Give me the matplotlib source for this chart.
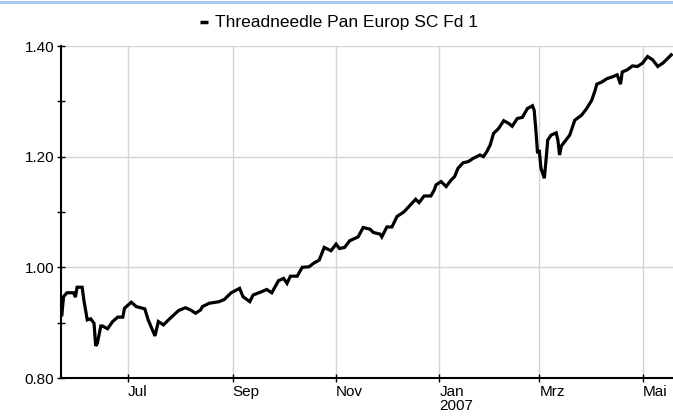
import matplotlib
matplotlib.use("Agg")
import matplotlib.pyplot as plt
from matplotlib.patches import Rectangle
from matplotlib.lines import Line2D
import pandas as pd

series_name = "Threadneedle Pan Europ SC Fd 1"

dates = [
    "2006-05-23", "2006-05-24", "2006-05-26", "2006-05-30", "2006-05-31", "2006-06-01",
    "2006-06-04", "2006-06-05", "2006-06-07", "2006-06-09", "2006-06-11", "2006-06-12",
    "2006-06-13", "2006-06-15", "2006-06-16", "2006-06-19", "2006-06-22", "2006-06-25",
    "2006-06-28", "2006-06-29", "2006-07-03", "2006-07-06", "2006-07-11", "2006-07-13",
    "2006-07-17", "2006-07-19", "2006-07-22", "2006-07-26", "2006-07-31", "2006-08-04",
    "2006-08-07", "2006-08-10", "2006-08-13", "2006-08-14", "2006-08-18", "2006-08-24",
    "2006-08-27", "2006-08-31", "2006-09-05", "2006-09-07", "2006-09-11", "2006-09-13",
    "2006-09-18", "2006-09-21", "2006-09-24", "2006-09-28", "2006-10-01", "2006-10-03",
    "2006-10-05", "2006-10-09", "2006-10-12", "2006-10-16", "2006-10-19", "2006-10-22",
    "2006-10-25", "2006-10-29", "2006-11-01", "2006-11-03", "2006-11-06", "2006-11-09",
    "2006-11-14", "2006-11-17", "2006-11-21", "2006-11-23", "2006-11-27", "2006-11-28",
    "2006-12-01", "2006-12-04", "2006-12-07", "2006-12-11", "2006-12-15", "2006-12-18",
    "2006-12-20", "2006-12-23", "2006-12-27", "2006-12-29", "2006-12-30", "2007-01-02",
    "2007-01-05", "2007-01-08", "2007-01-10", "2007-01-12", "2007-01-15", "2007-01-18",
    "2007-01-21", "2007-01-25", "2007-01-27", "2007-01-29", "2007-01-31", "2007-02-02",
    "2007-02-05", "2007-02-08", "2007-02-11", "2007-02-13", "2007-02-16", "2007-02-19",
    "2007-02-22", "2007-02-25", "2007-02-26", "2007-02-27", "2007-02-28", "2007-03-01",
    "2007-03-02", "2007-03-04", "2007-03-05", "2007-03-06", "2007-03-08", "2007-03-11",
    "2007-03-12", "2007-03-13", "2007-03-14", "2007-03-16", "2007-03-19", "2007-03-22",
    "2007-03-26", "2007-03-29", "2007-04-01", "2007-04-03", "2007-04-04", "2007-04-07",
    "2007-04-10", "2007-04-13", "2007-04-16", "2007-04-18", "2007-04-19", "2007-04-22",
    "2007-04-25", "2007-04-28", "2007-05-01", "2007-05-04", "2007-05-07", "2007-05-10",
    "2007-05-12", "2007-05-13", "2007-05-15", "2007-05-18",
]

values = [
    0.914, 0.947, 0.954, 0.954, 0.946, 0.964,
    0.964, 0.941, 0.905, 0.907, 0.899, 0.858,
    0.863, 0.894, 0.894, 0.889, 0.902, 0.910,
    0.910, 0.926, 0.937, 0.929, 0.925, 0.905,
    0.876, 0.902, 0.896, 0.908, 0.922, 0.927,
    0.923, 0.917, 0.923, 0.929, 0.935, 0.938,
    0.942, 0.954, 0.962, 0.947, 0.938, 0.950,
    0.956, 0.960, 0.954, 0.976, 0.980, 0.971,
    0.984, 0.984, 1.000, 1.001, 1.008, 1.013,
    1.036, 1.030, 1.042, 1.034, 1.036, 1.048,
    1.055, 1.072, 1.069, 1.063, 1.060, 1.055,
    1.073, 1.073, 1.092, 1.100, 1.113, 1.123,
    1.117, 1.129, 1.129, 1.140, 1.149, 1.155,
    1.146, 1.158, 1.164, 1.179, 1.189, 1.191,
    1.197, 1.203, 1.200, 1.209, 1.221, 1.242,
    1.251, 1.265, 1.260, 1.255, 1.269, 1.271,
    1.287, 1.292, 1.284, 1.248, 1.206, 1.212,
    1.179, 1.161, 1.194, 1.230, 1.239, 1.243,
    1.230, 1.203, 1.219, 1.227, 1.239, 1.266,
    1.275, 1.287, 1.302, 1.320, 1.331, 1.335,
    1.341, 1.344, 1.348, 1.331, 1.353, 1.357,
    1.364, 1.363, 1.369, 1.381, 1.375, 1.363,
    1.367, 1.369, 1.375, 1.384,
]

x_tick_dates = ["2006-07-01", "2006-09-01", "2006-11-01", "2007-01-01", "2007-03-01", "2007-05-01"]
x_tick_labels = ["Jul", "Sep", "Nov", "Jan\n2007", "Mrz", "Mai"]
y_major = [0.80, 1.00, 1.20, 1.40]
y_labels = ["0.80", "1.00", "1.20", "1.40"]
y_minor = [0.90, 1.10, 1.30]
x_range = ["2006-05-22 12:00", "2007-05-19"]

plt.rcParams["font.family"] = ["Liberation Sans", "DejaVu Sans"]

W, H = 673, 419
fig = plt.figure(figsize=(W / 100, H / 100), dpi=100)
fig.patch.set_facecolor("white")

# top blue frame line
fig.patches.append(Rectangle((0, 1 - 4 / H), 1, 3 / H, transform=fig.transFigure,
                             facecolor="#a9c9ee", edgecolor="none"))

left, right, top, bottom = 61, 673, 46, 378
ax = fig.add_axes([left / W, 1 - bottom / H, (right - left) / W, (bottom - top) / H])

x = pd.to_datetime(dates)
ax.plot(x, values, color="black", lw=2.3, solid_joinstyle="miter", zorder=3)

ax.set_ylim(0.80, 1.40)
ax.set_xlim(pd.to_datetime(x_range[0]), pd.to_datetime(x_range[1]))

ax.set_yticks(y_major)
ax.set_yticklabels(y_labels)
ax.set_yticks(y_minor, minor=True)
xt = pd.to_datetime(x_tick_dates)
ax.set_xticks(xt)
ax.set_xticklabels(x_tick_labels, ha="left", linespacing=1.0)

ax.grid(True, which="major", color="#d4d4d4", lw=1.0, zorder=0)
for s in ["top", "right"]:
    ax.spines[s].set_visible(False)
for s in ["left", "bottom"]:
    ax.spines[s].set_linewidth(1.5)
    ax.spines[s].set_color("black")

ax.tick_params(axis="y", which="both", direction="inout", length=6, width=1, labelsize=11,
               pad=2, colors="black")
ax.tick_params(axis="x", which="major", direction="inout", length=6, width=1, labelsize=11,
               pad=2, colors="black")

# legend-like title: short thick dash + series name
ty = 1 - 22 / H
fig.lines.append(Line2D([200 / W, 208 / W], [ty, ty], transform=fig.transFigure,
                        color="black", lw=2.5, solid_capstyle="butt"))
fig.text(215 / W, ty, series_name, ha="left", va="center", fontsize=12.5, color="black")

fig.savefig("out.png", dpi=100)
